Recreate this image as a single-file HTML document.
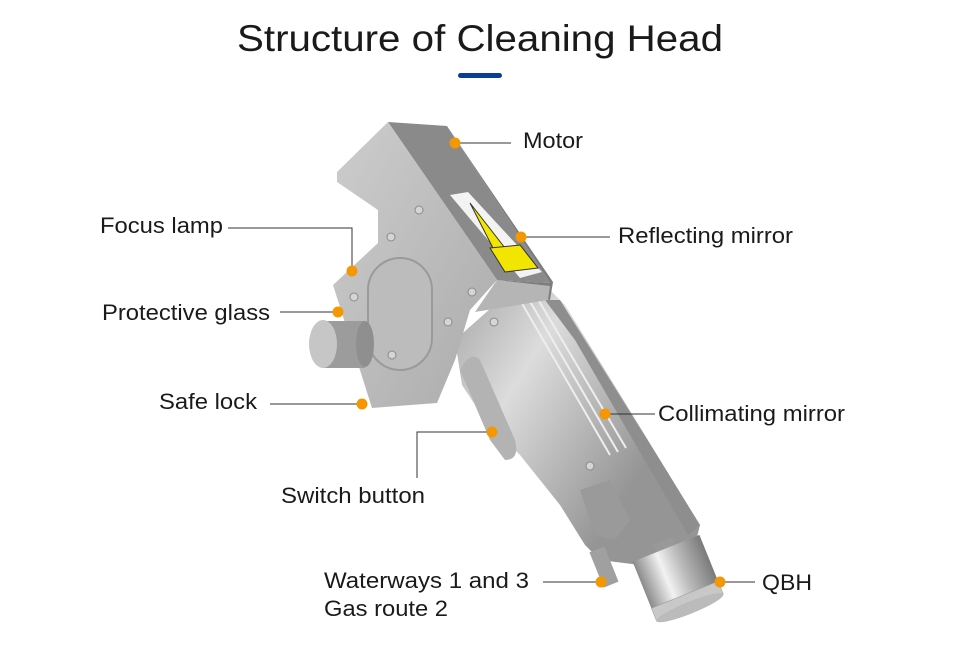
<!DOCTYPE html>
<html><head><meta charset="utf-8"><style>
html,body{margin:0;padding:0;background:#fff}
svg{display:block}
text{font-family:"Liberation Sans",Arial,sans-serif;fill:#1a1a1a}
</style></head><body>
<svg width="960" height="661" viewBox="0 0 960 661" xmlns="http://www.w3.org/2000/svg">
<defs>
<linearGradient id="face" x1="0" y1="0" x2="1" y2="1">
<stop offset="0" stop-color="#cdcdcd"/><stop offset="1" stop-color="#ababab"/></linearGradient>
<linearGradient id="handle" x1="0" y1="0" x2="1" y2="0" gradientTransform="rotate(35)">
<stop offset="0" stop-color="#a8a8a8"/><stop offset="0.4" stop-color="#dcdcdc"/><stop offset="1" stop-color="#959595"/></linearGradient>
<linearGradient id="cyl" x1="0" y1="0" x2="1" y2="0">
<stop offset="0" stop-color="#8a8a8a"/><stop offset="0.35" stop-color="#f2f2f2"/><stop offset="0.6" stop-color="#bdbdbd"/><stop offset="1" stop-color="#7a7a7a"/></linearGradient>
</defs>
<text x="480" y="51" font-size="37" text-anchor="middle" textLength="486" lengthAdjust="spacingAndGlyphs" style="font-weight:300">Structure of Cleaning Head</text>
<rect x="458" y="73" width="44" height="5" rx="2.5" fill="#0a3e96"/>

<!-- handle tube -->
<polygon points="455,340 500,300 550,290 565,305 700,525 695,545 640,565 600,560 585,545 560,505 520,455 485,420 462,385" fill="url(#handle)"/>
<polygon points="545,300 560,300 700,525 688,535 575,340" fill="#8e8e8e"/>
<g stroke="#eeeeee" stroke-width="2">
<line x1="520" y1="300" x2="610" y2="455"/><line x1="528" y1="298" x2="618" y2="452"/><line x1="536" y1="296" x2="626" y2="448"/></g>
<polygon points="580,490 610,480 630,520 615,540 595,535" fill="#9a9a9a"/>
<path d="M460,370 Q470,350 480,360 L515,440 Q520,460 505,460 L490,440 Z" fill="#b3b3b3"/>
<!-- box top face -->
<polygon points="388,122 447,126 550,283 497,280" fill="#8a8a8a"/>
<polygon points="447,126 553,282 550,300 497,292 497,280 550,283" fill="#7d7d7d"/>
<!-- front face -->
<polygon points="337,172 388,122 497,280 470,310 455,360 437,403 372,408 333,285 378,243 378,210 337,182" fill="url(#face)"/>
<polygon points="497,280 550,286 548,300 475,312" fill="#b5b5b5"/>
<!-- label -->
<polygon points="450,195 468,192 542,272 520,278" fill="#f3f3f3"/>
<polygon points="470,203 505,248 495,252" fill="#f2e600" stroke="#333" stroke-width="1"/>
<polygon points="490,248 520,245 538,268 505,272" fill="#f2e600" stroke="#333" stroke-width="1"/>
<!-- slot -->
<rect x="368" y="258" width="64" height="112" rx="32" fill="#bcbcbc" stroke="#9a9a9a" stroke-width="2"/>
<!-- knob -->
<rect x="323" y="321" width="42" height="47" fill="#9c9c9c"/>
<ellipse cx="365" cy="344" rx="9" ry="23" fill="#8f8f8f"/>
<ellipse cx="323" cy="344" rx="14" ry="24" fill="#c6c6c6"/>
<g fill="#d5d5d5" stroke="#8a8a8a"><circle cx="419" cy="210" r="4"/><circle cx="391" cy="237" r="4"/><circle cx="354" cy="297" r="4"/><circle cx="472" cy="292" r="4"/><circle cx="448" cy="322" r="4"/><circle cx="392" cy="355" r="4"/><circle cx="494" cy="322" r="4"/><circle cx="590" cy="466" r="4"/></g>
<!-- nozzle -->
<g transform="translate(678,578) rotate(-22)">
<rect x="-10" y="-40" width="20" height="10" fill="#999"/>
<rect x="-36" y="-32" width="72" height="60" fill="url(#cyl)"/>
<rect x="-36" y="18" width="72" height="14" fill="#c8c8c8" stroke="#999" stroke-width="0.5"/>
<ellipse cx="0" cy="32" rx="36" ry="6" fill="#bbbbbb"/>
</g>
<rect x="596" y="548" width="16" height="38" fill="#a0a0a0" transform="rotate(-22 604 567)"/>

<g stroke="#333" stroke-width="1" fill="none">
<line x1="460" y1="143" x2="511" y2="143"/>
<polyline points="228,228 352,228 352,268"/>
<line x1="521" y1="237" x2="610" y2="237"/>
<line x1="280" y1="312" x2="335" y2="312"/>
<line x1="270" y1="404" x2="360" y2="404"/>
<line x1="605" y1="414" x2="655" y2="414"/>
<polyline points="490,432 417,432 417,478"/>
<line x1="543" y1="582" x2="598" y2="582"/>
<line x1="720" y1="582" x2="755" y2="582"/>
</g>
<g fill="#f39800">
<circle cx="455" cy="143" r="5.5"/><circle cx="352" cy="271" r="5.5"/><circle cx="521" cy="237" r="5.5"/><circle cx="338" cy="312" r="5.5"/><circle cx="362" cy="404" r="5.5"/><circle cx="605" cy="414" r="5.5"/><circle cx="492" cy="432" r="5.5"/><circle cx="601" cy="582" r="5.5"/><circle cx="720" cy="582" r="5.5"/>
</g>
<g font-size="22">
<text x="523" y="148" textLength="60" lengthAdjust="spacingAndGlyphs">Motor</text>
<text x="100" y="233" textLength="123" lengthAdjust="spacingAndGlyphs">Focus lamp</text>
<text x="618" y="243" textLength="175" lengthAdjust="spacingAndGlyphs">Reflecting mirror</text>
<text x="102" y="320" textLength="168" lengthAdjust="spacingAndGlyphs">Protective glass</text>
<text x="159" y="409" textLength="98" lengthAdjust="spacingAndGlyphs">Safe lock</text>
<text x="658" y="421" textLength="187" lengthAdjust="spacingAndGlyphs">Collimating mirror</text>
<text x="281" y="503" textLength="144" lengthAdjust="spacingAndGlyphs">Switch button</text>
<text x="324" y="588" textLength="205" lengthAdjust="spacingAndGlyphs">Waterways 1 and 3</text>
<text x="324" y="616" textLength="124" lengthAdjust="spacingAndGlyphs">Gas route 2</text>
<text x="762" y="590" textLength="50" lengthAdjust="spacingAndGlyphs">QBH</text>
</g>
</svg>
</body></html>
